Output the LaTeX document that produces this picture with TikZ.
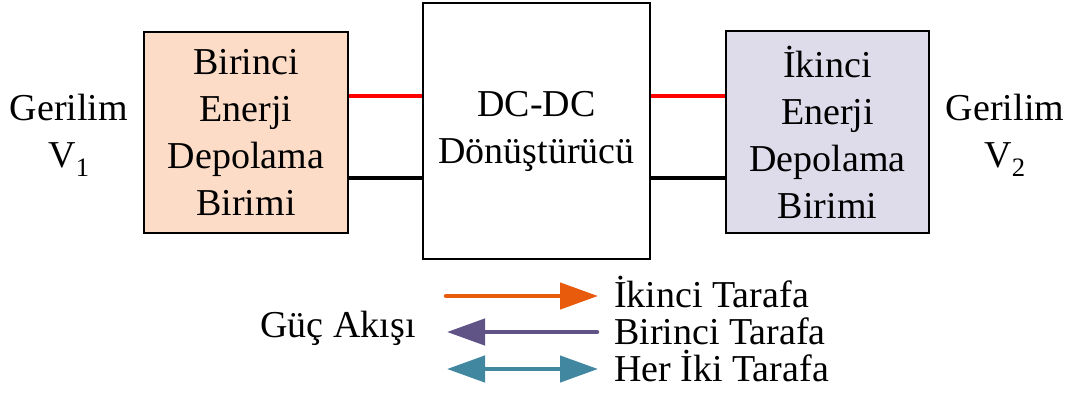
\documentclass[tikz,border=0pt]{standalone}
\usepackage{fontspec}
\setmainfont{Liberation Serif}
\usepackage{xcolor}
\usetikzlibrary{positioning, arrows.meta}

\definecolor{peach}{RGB}{252,219,199}
\definecolor{lavender}{RGB}{222,220,234}
\definecolor{flowone}{RGB}{232,90,12}
\definecolor{flowtwo}{RGB}{96,84,135}
\definecolor{flowboth}{RGB}{66,135,160}

\begin{document}
\begin{tikzpicture}[
      x=1pt, y=-1pt,
      unit/.style={draw, line width=2pt, rectangle, align=center, font=\fontsize{38}{47}\selectfont},
      label/.style={align=center, inner sep=0pt, font=\fontsize{38}{47}\selectfont},
      legend/.style={anchor=base west, inner sep=0pt, font=\fontsize{38}{37}\selectfont},
      flow/.style={line width=4.5pt, line cap=round, -{Triangle[length=38pt, width=26pt]}}
    ]
    \useasboundingbox (0,0) rectangle (1073,394);

    \node[unit, fill=peach, minimum width=204pt, minimum height=201pt] (first) at (246,132.5) {Birinci\\Enerji\\Depolama\\Birimi};
    \node[unit, fill=white, minimum width=227pt, minimum height=256pt] (conv) at (536.5,131) {DC-DC\\Dönüştürücü};
    \node[unit, fill=lavender, minimum width=203pt, minimum height=202pt] (second) at (827.5,132) {İkinci\\Enerji\\Depolama\\Birimi};

    \node[label] (v1) at (69,135) {Gerilim\\V\textsubscript{1}};
    \node[label] (v2) at (1005,135) {Gerilim\\V\textsubscript{2}};

    % bus lines between the units
    \draw[red, line width=4pt] (first.east |- 0,96) -- (conv.west |- 0,96);
    \draw[line width=4pt] (first.east |- 0,178) -- (conv.west |- 0,178);
    \draw[red, line width=4pt] (conv.east |- 0,96) -- (second.west |- 0,96);
    \draw[line width=4pt] (conv.east |- 0,178) -- (second.west |- 0,178);

    % power flow legend
    \node[anchor=base, inner sep=0pt, font=\fontsize{38}{37}\selectfont] (power) at (338,337) {Güç Akışı};
    \node[legend] (toSecond) at (614,307) {İkinci Tarafa};
    \node[legend] (toFirst) at (614,344) {Birinci Tarafa};
    \node[legend] (toBoth) at (614,381) {Her İki Tarafa};

    \coordinate (a1) at (446,296);
    \coordinate (b1) at (598,296);
    \coordinate (a2) at (597,332);
    \coordinate (b2) at (447,332);
    \coordinate (a3) at (447,369);
    \coordinate (b3) at (598,369);

    \draw[flow, flowone] (a1) -- (b1);
    \draw[flow, flowtwo] (a2) -- (b2);
    \draw[flow, flowboth, {Triangle[length=38pt, width=26pt]}-{Triangle[length=38pt, width=26pt]}] (a3) -- (b3);
  \end{tikzpicture}
\end{document}
